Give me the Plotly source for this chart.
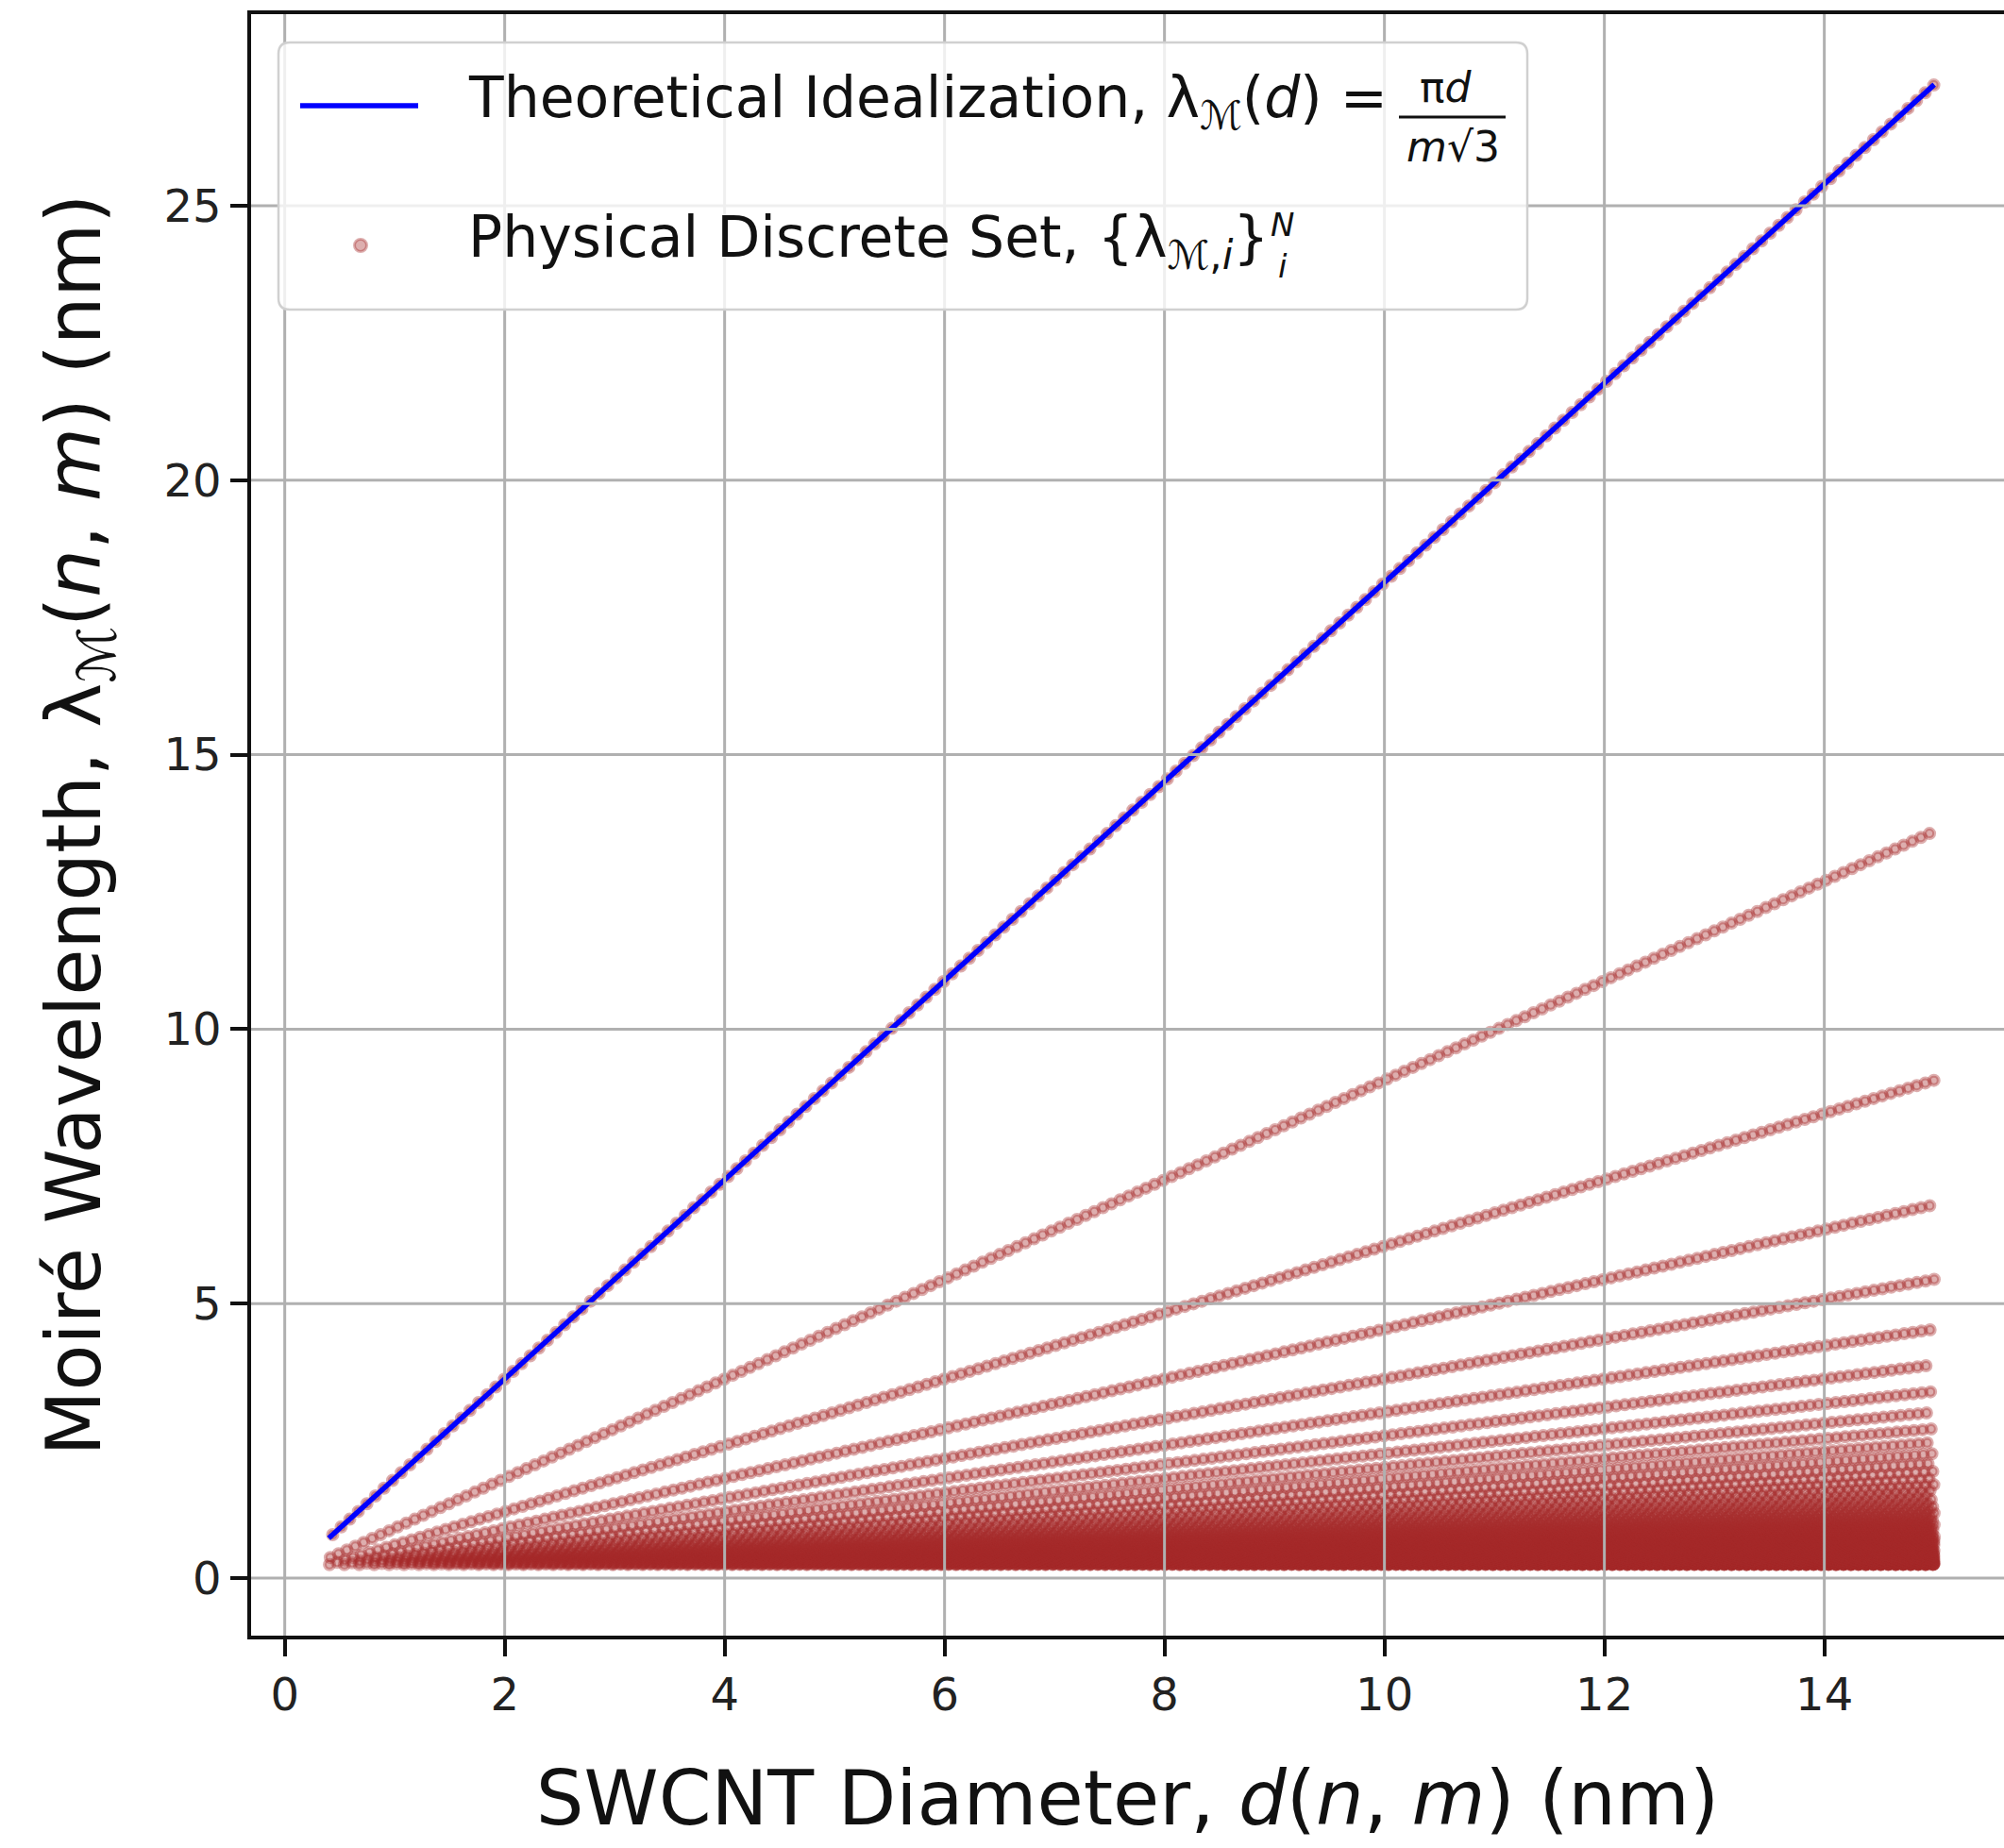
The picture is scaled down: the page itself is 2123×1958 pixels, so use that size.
import numpy as np
import plotly.graph_objects as go

# ---------------- data definition ----------------
A_GRAPHENE_NM = 0.246      # graphene lattice constant (nm)
D_MIN_NM = 0.4             # smallest diameter in the set
D_MAX_NM = 15.0            # largest diameter in the set
LINE_D_NM = [0.4, 15.0]    # span of the theoretical idealization line
X_TICKS = [0, 2, 4, 6, 8, 10, 12, 14]
Y_TICKS = [0, 5, 10, 15, 20, 25]
X_RANGE = [-0.306, 15.634]
Y_RANGE = [-1.049, 28.49]

# enumerate chiral indices (n, m), n >= m >= 1
n_max = int(np.ceil(D_MAX_NM * np.pi / A_GRAPHENE_NM))
chiral_n, chiral_m = [], []
for n in range(1, n_max + 1):
    for m in range(1, n + 1):
        d = A_GRAPHENE_NM / np.pi * np.sqrt(n * n + n * m + m * m)
        if D_MIN_NM <= d <= D_MAX_NM:
            chiral_n.append(n)
            chiral_m.append(m)
chiral_n = np.array(chiral_n, dtype=float)
chiral_m = np.array(chiral_m, dtype=float)
diam = A_GRAPHENE_NM / np.pi * np.sqrt(chiral_n**2 + chiral_n * chiral_m + chiral_m**2)
lam = np.pi * diam / (chiral_m * np.sqrt(3))

line_d = np.array(LINE_D_NM)
line_lam = np.pi * line_d / np.sqrt(3)

# ---------------- layout geometry ----------------
W, H = 2123, 1958
ML, MR, MT, MB = 266, 0, 15, 225
PW, PH = W - ML - MR, H - MT - MB

def px(xp):
    return (xp - ML) / PW

def py(yp):
    return (H - MB - yp) / PH

FONT = "DejaVu Sans"
PT_COLOR = "rgba(165,42,42,0.38)"

fig = go.Figure()
fig.add_trace(go.Scatter(
    x=diam, y=lam, mode="markers", name="Physical Discrete Set",
    marker=dict(size=10, color=PT_COLOR, line=dict(width=4, color=PT_COLOR)),
    showlegend=False, hoverinfo="skip"))
fig.add_trace(go.Scatter(
    x=line_d, y=line_lam, mode="lines", name="Theoretical Idealization",
    line=dict(color="#0000ff", width=5.5), showlegend=False))

shapes = []
# gridlines drawn above the scatter (as in the reference)
for xv in X_TICKS:
    shapes.append(dict(type="line", xref="x", yref="paper", x0=xv, x1=xv, y0=0, y1=1,
                       line=dict(color="#b0b0b0", width=3), layer="above"))
for yv in Y_TICKS:
    shapes.append(dict(type="line", xref="paper", yref="y", x0=0, x1=1, y0=yv, y1=yv,
                       line=dict(color="#b0b0b0", width=3), layer="above"))

# legend box with rounded corners
bx0, bx1, by0, by1 = 295, 1618, 45, 328
r = 12
def P(xp, yp):
    return f"{px(xp):.5f},{py(yp):.5f}"
path = (f"M {P(bx0 + r, by0)} L {P(bx1 - r, by0)} Q {P(bx1, by0)} {P(bx1, by0 + r)} "
        f"L {P(bx1, by1 - r)} Q {P(bx1, by1)} {P(bx1 - r, by1)} "
        f"L {P(bx0 + r, by1)} Q {P(bx0, by1)} {P(bx0, by1 - r)} "
        f"L {P(bx0, by0 + r)} Q {P(bx0, by0)} {P(bx0 + r, by0)} Z")
shapes.append(dict(type="path", xref="paper", yref="paper", path=path,
                   fillcolor="rgba(255,255,255,0.8)", line=dict(color="#d0d0d0", width=2.5),
                   layer="above"))
# legend keys
shapes.append(dict(type="line", xref="paper", yref="paper", x0=px(318), x1=px(443),
                   y0=py(112), y1=py(112), line=dict(color="#0000ff", width=5.5), layer="above"))
shapes.append(dict(type="circle", xref="paper", yref="paper", xsizemode="pixel", ysizemode="pixel",
                   xanchor=px(382), yanchor=py(260), x0=-6.5, x1=6.5, y0=-6.5, y1=6.5,
                   fillcolor=PT_COLOR, line=dict(color=PT_COLOR, width=3), layer="above"))
# fraction bar
shapes.append(dict(type="line", xref="paper", yref="paper", x0=px(1482), x1=px(1595),
                   y0=py(124), y1=py(124), line=dict(color="#111111", width=3), layer="above"))

LEG = 60
FRAC = 44
SCR = 34
annotations = [
    dict(text="Theoretical Idealization, λ<sub>ℳ</sub>(<i>d</i>) = ", x=px(494), y=py(108),
         xanchor="left", yanchor="middle"),
    dict(text="π<i>d</i>", x=px(1532), y=py(92), xanchor="center", yanchor="middle",
         font=dict(size=FRAC, family=FONT, color="#111111")),
    dict(text="<i>m</i>√3", x=px(1539), y=py(155), xanchor="center", yanchor="middle",
         font=dict(size=FRAC, family=FONT, color="#111111")),
    dict(text="Physical Discrete Set, {λ<sub>ℳ,<i>i</i></sub>}", x=px(494), y=py(255),
         xanchor="left", yanchor="middle"),
    dict(text="<i>N</i><br><i>i</i>", x=px(1358), y=py(260), xanchor="center", yanchor="middle",
         font=dict(size=SCR, family=FONT, color="#111111")),
]
for a in annotations:
    a.setdefault("font", dict(size=LEG, family=FONT, color="#111111"))
    a.update(xref="paper", yref="paper", showarrow=False)

axis_common = dict(showgrid=False, zeroline=False, showline=True, linecolor="#111111",
                   linewidth=3.5, ticks="outside", ticklen=18, tickwidth=3.5,
                   tickcolor="#111111", tickfont=dict(size=48, family=FONT, color="#222222"),
                   automargin=False)

fig.update_layout(
    width=W, height=H, margin=dict(l=ML, r=MR, t=MT, b=MB),
    paper_bgcolor="white", plot_bgcolor="white",
    xaxis=dict(range=X_RANGE, tickvals=X_TICKS, mirror=True, **axis_common,
               title=dict(text="SWCNT Diameter, <i>d</i>(<i>n</i>, <i>m</i>) (nm)",
                          font=dict(size=80, family=FONT, color="#111111"), standoff=56)),
    yaxis=dict(range=Y_RANGE, tickvals=Y_TICKS, mirror=False, **axis_common,
               title=dict(text="Moiré Wavelength, λ<sub>ℳ</sub>(<i>n</i>, <i>m</i>) (nm)",
                          font=dict(size=80, family=FONT, color="#111111"), standoff=42)),
    shapes=shapes, annotations=annotations, showlegend=False,
)

fig.write_html("out.html")
